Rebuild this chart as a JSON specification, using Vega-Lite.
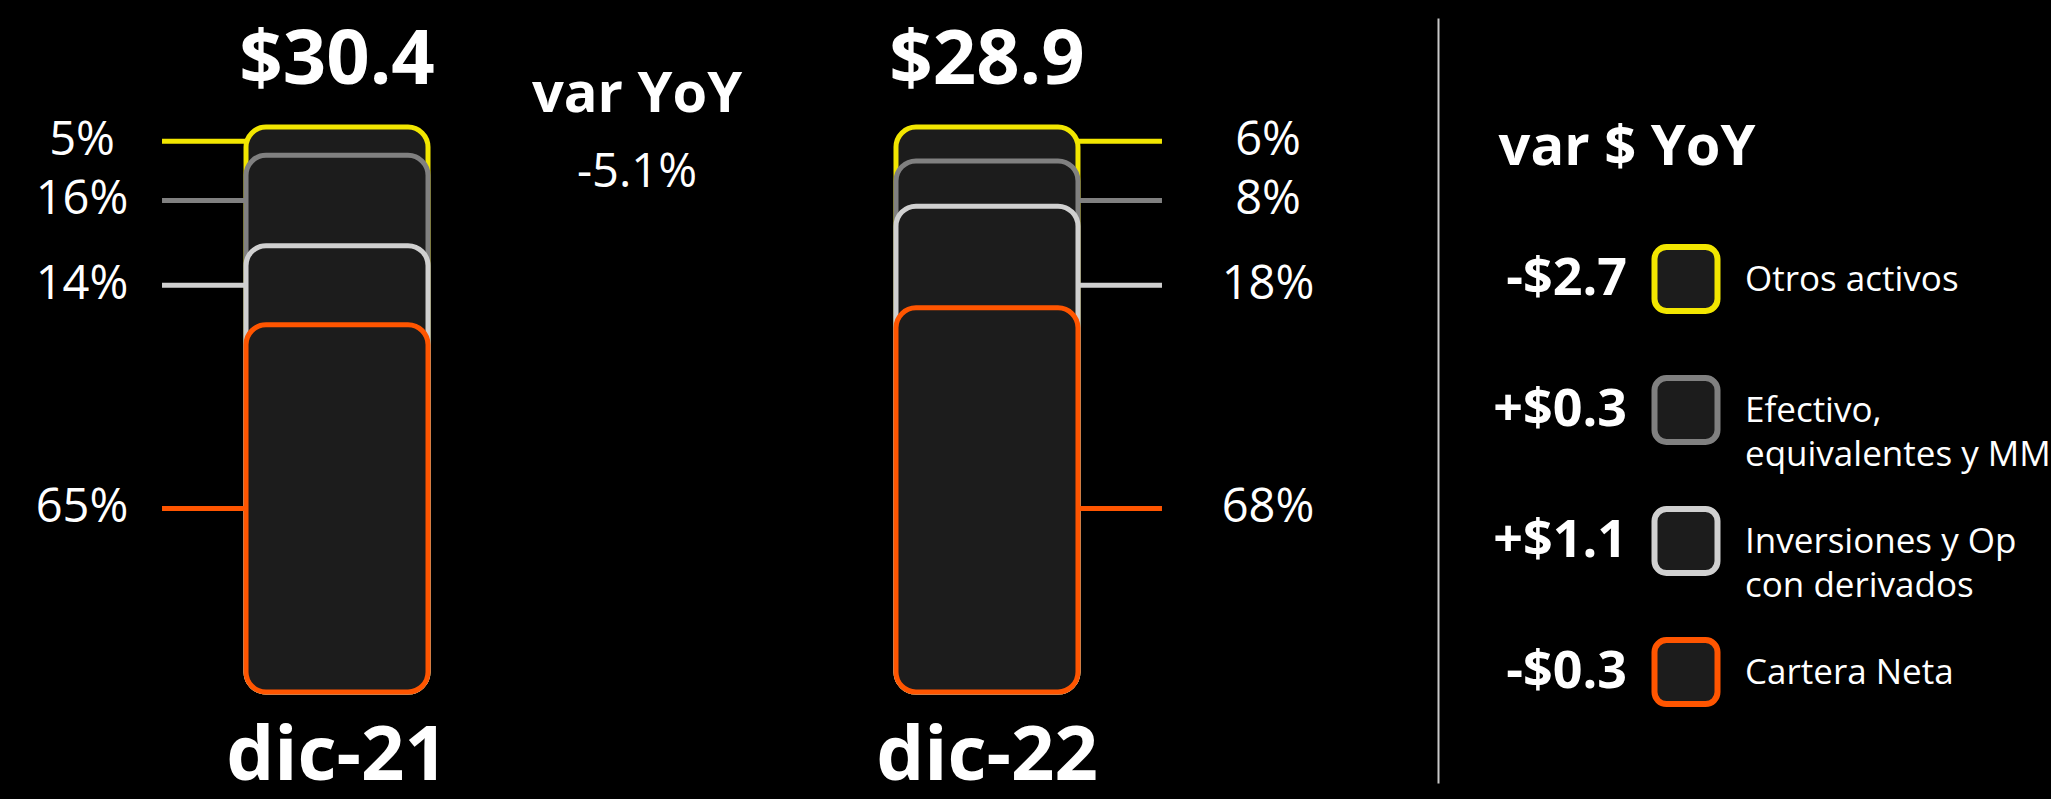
{
  "$schema": "https://vega.github.io/schema/vega-lite/v6.json",
  "background": "#000000",
  "padding": {"left": 0, "top": 18, "right": 0, "bottom": 14},
  "bounds": "flush",
  "spacing": 244,
  "config": {"view": {"stroke": null}, "font": "Open Sans"},
  "datasets": {
    "composicion": [
      {"serie": "Otros activos", "etiqueta": "Otros activos", "orden": 4, "dic-21": 0.05, "dic-22": 0.06, "variacion": "-$2.7"},
      {"serie": "Efectivo, equivalentes y MM", "etiqueta": "Efectivo,\nequivalentes y MM", "orden": 3, "dic-21": 0.16, "dic-22": 0.08, "variacion": "+$0.3"},
      {"serie": "Inversiones y Op con derivados", "etiqueta": "Inversiones y Op\ncon derivados", "orden": 2, "dic-21": 0.14, "dic-22": 0.18, "variacion": "+$1.1"},
      {"serie": "Cartera Neta", "etiqueta": "Cartera Neta", "orden": 1, "dic-21": 0.65, "dic-22": 0.68, "variacion": "-$0.3"}
    ],
    "totales": [
      {"periodo": "dic-21", "total": 30.4},
      {"periodo": "dic-22", "total": 28.9}
    ],
    "encabezado": [
      {"titulo": "var $ YoY"}
    ]
  },
  "resolve": {"scale": {"x": "independent", "y": "independent"}},
  "hconcat": [
    {
      "width": 1324,
      "height": 674,
      "title": {
        "text": "var YoY",
        "subtitle": "-5.1%",
        "anchor": "middle",
        "frame": "group",
        "dx": -25,
        "offset": -179,
        "font": "Open Sans",
        "fontSize": 56,
        "fontWeight": "bold",
        "color": "#ffffff",
        "subtitleFont": "Open Sans",
        "subtitleFontSize": 47,
        "subtitleFontWeight": "normal",
        "subtitleColor": "#ffffff",
        "subtitlePadding": 26
      },
      "data": {"name": "composicion"},
      "layer": [
        {
          "transform": [
            {"fold": ["dic-21", "dic-22"], "as": ["periodo", "pct"]},
            {"stack": "pct", "groupby": ["periodo"], "sort": [{"field": "orden", "order": "ascending"}], "as": ["base", "tope"]}
          ],
          "mark": {"type": "bar", "fill": "#1c1c1c", "strokeWidth": 5, "cornerRadius": 20, "width": {"band": 0.28}},
          "encoding": {
            "x": {
              "field": "periodo", "type": "nominal",
              "scale": {"domain": ["dic-21", "dic-22"], "paddingInner": 0, "paddingOuter": 0.0185},
              "axis": {"title": null, "domain": false, "ticks": false, "grid": false, "labelAngle": 0, "labelLimit": 0, "labelFont": "Open Sans", "labelFontWeight": "bold", "labelFontSize": 76, "labelColor": "#ffffff", "labelPadding": 27}
            },
            "y": {"field": "tope", "type": "quantitative", "stack": null, "scale": {"domain": [0, 1.193], "nice": false}, "axis": null},
            "stroke": {
              "field": "serie", "type": "nominal",
              "scale": {"domain": ["Otros activos", "Efectivo, equivalentes y MM", "Inversiones y Op con derivados", "Cartera Neta"], "range": ["#F2E600", "#808080", "#D0D0D0", "#FF5500"]},
              "legend": null
            },
            "order": {"field": "orden", "sort": "descending"}
          }
        },
        {
          "mark": {"type": "tick", "orient": "horizontal", "size": 84, "thickness": 5, "opacity": 1, "xOffset": -133},
          "encoding": {
            "x": {"datum": "dic-21", "type": "nominal"},
            "y": {"field": "dic-21", "type": "quantitative", "stack": "zero", "bandPosition": 0.5},
            "color": {
              "field": "serie", "type": "nominal",
              "scale": {"domain": ["Otros activos", "Efectivo, equivalentes y MM", "Inversiones y Op con derivados", "Cartera Neta"], "range": ["#F2E600", "#808080", "#D0D0D0", "#FF5500"]},
              "legend": null
            },
            "order": {"field": "orden", "sort": "ascending"}
          }
        },
        {
          "mark": {"type": "tick", "orient": "horizontal", "size": 84, "thickness": 5, "opacity": 1, "xOffset": 133},
          "encoding": {
            "x": {"datum": "dic-22", "type": "nominal"},
            "y": {"field": "dic-21", "type": "quantitative", "stack": "zero", "bandPosition": 0.5},
            "color": {"field": "serie", "type": "nominal", "legend": null},
            "order": {"field": "orden", "sort": "ascending"}
          }
        },
        {
          "mark": {"type": "text", "dx": -255, "fontSize": 47, "color": "#ffffff", "baseline": "middle", "align": "center", "font": "Open Sans"},
          "encoding": {
            "x": {"datum": "dic-21", "type": "nominal"},
            "y": {"field": "dic-21", "type": "quantitative", "stack": "zero", "bandPosition": 0.5},
            "detail": {"field": "serie", "type": "nominal"},
            "order": {"field": "orden", "sort": "ascending"},
            "text": {"field": "dic-21", "type": "quantitative", "format": ".0%"}
          }
        },
        {
          "mark": {"type": "text", "dx": 281, "fontSize": 47, "color": "#ffffff", "baseline": "middle", "align": "center", "font": "Open Sans"},
          "encoding": {
            "x": {"datum": "dic-22", "type": "nominal"},
            "y": {"field": "dic-21", "type": "quantitative", "stack": "zero", "bandPosition": 0.5},
            "detail": {"field": "serie", "type": "nominal"},
            "order": {"field": "orden", "sort": "ascending"},
            "text": {"field": "dic-22", "type": "quantitative", "format": ".0%"}
          }
        },
        {
          "data": {"name": "totales"},
          "mark": {"type": "text", "dy": -43, "fontSize": 76, "fontWeight": "bold", "color": "#ffffff", "baseline": "alphabetic", "align": "center", "font": "Open Sans"},
          "encoding": {
            "x": {"field": "periodo", "type": "nominal"},
            "y": {"datum": 1, "type": "quantitative"},
            "text": {"field": "total", "type": "quantitative", "format": "$.1f"}
          }
        }
      ]
    },
    {
      "width": 236,
      "height": 765,
      "data": {"name": "composicion"},
      "layer": [
        {
          "data": {"name": "encabezado"},
          "mark": {"type": "text", "fontSize": 56, "fontWeight": "bold", "color": "#ffffff", "align": "center", "baseline": "middle", "font": "Open Sans"},
          "encoding": {
            "x": {"datum": "valor", "type": "nominal", "scale": {"type": "band", "domain": ["valor", "muestra", "etiqueta"], "paddingInner": 0, "paddingOuter": 0.5}, "axis": null},
            "y": {
              "datum": 5, "type": "quantitative",
              "scale": {"domain": [0.153, 5.992], "nice": false, "zero": false},
              "axis": {"orient": "left", "offset": 130, "domain": true, "domainColor": "#c8c8c8", "domainWidth": 2, "ticks": false, "labels": false, "grid": false, "title": null}
            },
            "text": {"field": "titulo", "type": "nominal"}
          }
        },
        {
          "mark": {"type": "text", "fontSize": 52, "fontWeight": "bold", "color": "#ffffff", "align": "right", "baseline": "middle", "font": "Open Sans"},
          "encoding": {
            "x": {"datum": "valor", "type": "nominal", "scale": {"type": "band", "domain": ["valor", "muestra", "etiqueta"], "paddingInner": 0, "paddingOuter": 0.5}},
            "y": {"field": "orden", "type": "quantitative"},
            "text": {"field": "variacion", "type": "nominal"}
          }
        },
        {
          "mark": {"type": "rect", "width": 63, "height": 64, "cornerRadius": 12, "fill": "#1c1c1c", "strokeWidth": 6},
          "encoding": {
            "x": {"datum": "muestra", "type": "nominal", "scale": {"type": "band", "domain": ["valor", "muestra", "etiqueta"], "paddingInner": 0, "paddingOuter": 0.5}},
            "y": {"field": "orden", "type": "quantitative"},
            "stroke": {
              "field": "serie", "type": "nominal",
              "scale": {"domain": ["Otros activos", "Efectivo, equivalentes y MM", "Inversiones y Op con derivados", "Cartera Neta"], "range": ["#F2E600", "#808080", "#D0D0D0", "#FF5500"]},
              "legend": null
            }
          }
        },
        {
          "mark": {"type": "text", "fontSize": 35, "color": "#ffffff", "align": "left", "baseline": "alphabetic", "dy": 12, "lineBreak": "\n", "lineHeight": 44, "font": "Open Sans"},
          "encoding": {
            "x": {"datum": "etiqueta", "type": "nominal", "scale": {"type": "band", "domain": ["valor", "muestra", "etiqueta"], "paddingInner": 0, "paddingOuter": 0.5}},
            "y": {"field": "orden", "type": "quantitative"},
            "text": {"field": "etiqueta", "type": "nominal"}
          }
        }
      ]
    }
  ]
}
